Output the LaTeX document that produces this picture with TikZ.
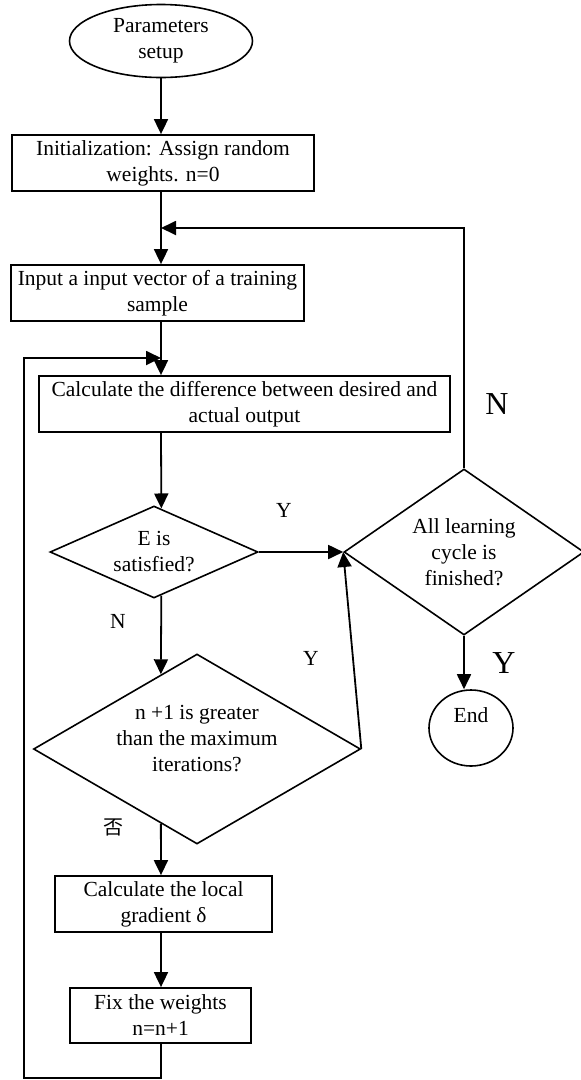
\documentclass[tikz,border=0pt]{standalone}
\usepackage{fontspec}
\setmainfont{Liberation Serif}
\newfontfamily\cjk{Noto Sans CJK SC}
\usetikzlibrary{arrows.meta,calc,positioning,shapes.geometric}

\begin{document}
\begin{tikzpicture}[x=1pt, y=-1pt,
    font=\fontsize{21.5}{26}\selectfont,
    every node/.style={inner sep=0pt},
    box/.style={draw, line width=1.8pt, rectangle, align=center, minimum height=56pt},
    oval/.style={draw, line width=1.6pt, ellipse, align=center},
    ask/.style={draw, line width=1.6pt, diamond, align=center},
    flow/.style={line width=1.8pt, -{Triangle[length=15pt,width=14pt]}},
    big/.style={font=\fontsize{32}{36}\selectfont}]
\useasboundingbox (0,0) rectangle (581,1080);
\coordinate (col) at (161,0);

%%%%%%%%%%%%%%%%%steps
\node[oval, minimum width=183pt, minimum height=73pt] (start) at (161,41) {Parameters\\setup};
\node[box, minimum width=302pt] (init) at (163,163) {Initialization: Assign random\\weights. n=0};
\node[box, minimum width=293pt] (input) at (157.5,293) {Input a input vector of a training\\sample};
\node[box, minimum width=411pt] (diff) at (244.5,404) {Calculate the difference between desired and\\actual output};
\node[ask, minimum width=208pt, minimum height=92pt, aspect=2.26] (esat) at (154,552) {E is\\satisfied?};
\node[ask, minimum width=240pt, minimum height=166pt, aspect=1.45] (cycle) at (464,552) {All learning\\cycle is\\finished?};
\node[ask, minimum width=327pt, minimum height=190pt, aspect=1.72] (iter) at (197,749) {\raisebox{4pt}[0pt][0pt]{\begin{tabular}{@{}c@{}}n +1 is greater\\than the maximum\\iterations?\end{tabular}}};
\node[box, minimum width=217pt] (grad) at (163.5,904) {Calculate the local\\gradient δ};
\node[box, minimum width=181pt, minimum height=55pt] (fix) at (160.5,1015.5) {Fix the weights\\n=n+1};
\node[oval, minimum width=84pt, minimum height=76pt] (endn) at (471,728) {\raisebox{6pt}[0pt][0pt]{End}};

%%%%%%%%%%%%%%%%%labels
\node (yes1) at (284,510) {Y};
\node (no1) at (118,621) {N};
\node (yes2) at (311,658) {Y};
\node[font=\cjk\fontsize{20}{22}\selectfont] (no2) at (113,827) {否};
\node[big] (no3) at (497,404) {N};
\node[big] (yes3) at (504,663) {Y};

%%%%%%%%%%%%%%%%%main column
\draw[flow] (start.south) -- (init.north -| start.south);
\draw[flow] (init.south -| col) -- (input.north -| col);
\draw[flow] (input.south -| col) -- (diff.north -| col);
\draw[flow] (diff.south -| col) -- ($(esat.north)!0.07!(esat.east)$);
\draw[flow] ($(esat.south)!0.07!(esat.east)$) -- ($(iter.north)!0.22!(iter.west)$);
\draw[flow] ($(iter.south)!0.22!(iter.west)$) -- (grad.north -| col);
\draw[flow] (grad.south -| col) -- (fix.north -| col);

%%%%%%%%%%%%%%%%%yes branches
\draw[flow] (esat.east) -- (cycle.west);
\draw[flow] (iter.east) -- (cycle.west);
\draw[flow] (cycle.south) -- (cycle.south |- endn.north);

%%%%%%%%%%%%%%%%%loops
\coordinate (merge) at (161,228);
\coordinate (back) at (161,358);
\coordinate (corner) at (24,1078);
\draw[flow] (cycle.north) |- (merge);
\draw[flow] (fix.south -| col) |- (corner) |- (back);
\end{tikzpicture}
\end{document}
